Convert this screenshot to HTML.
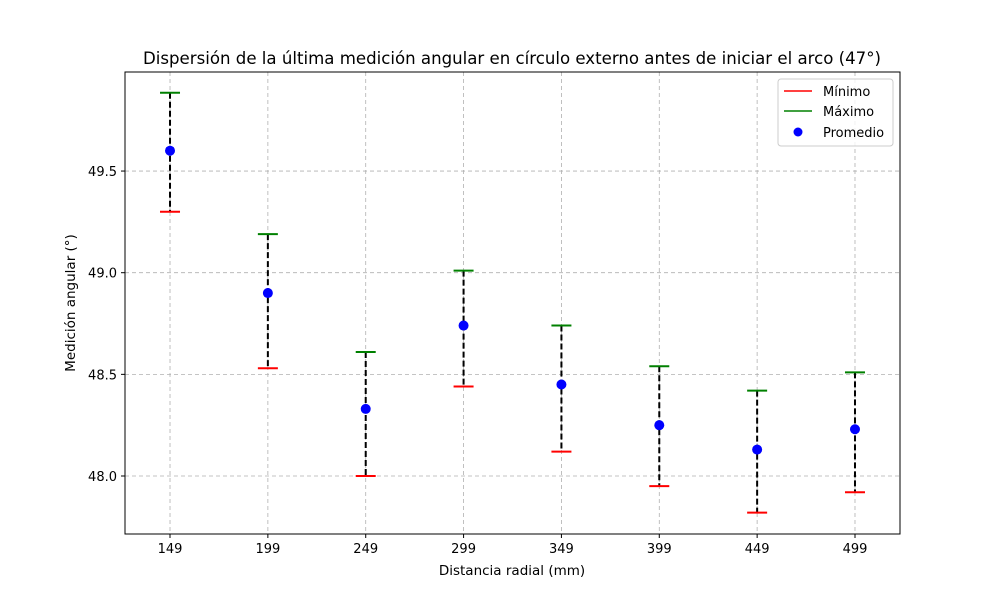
<!DOCTYPE html>
<html><head><meta charset="utf-8"><style>
body{margin:0;background:#fff;font-family:"Liberation Sans","DejaVu Sans",sans-serif}
text{font-family:"DejaVu Sans","Liberation Sans",sans-serif}
</style></head><body>
<svg id="chart" width="1000" height="600" xmlns="http://www.w3.org/2000/svg">
<rect width="1000" height="600" fill="#fff"/>
<text x="512" y="64" font-size="16.6" text-anchor="middle">Dispersión de la última medición angular en círculo externo antes de iniciar el arco (47°)</text>
<g id="grid"></g><g id="marks"></g>
<rect x="125" y="72" width="775" height="462" fill="none" stroke="#000" stroke-width="1"/>
<g id="axes"></g>
<text x="512" y="575" font-size="13.5" text-anchor="middle">Distancia radial (mm)</text>
<text transform="translate(75,303) rotate(-90)" font-size="13.5" text-anchor="middle">Medición angular (°)</text>
<g>
<rect x="778" y="79" width="115" height="67" fill="#fff" fill-opacity="0.8" stroke="#ccc" rx="3"/>
<line x1="784" y1="91" x2="812" y2="91" stroke="red" stroke-width="1.5"/>
<text x="823" y="96" font-size="13">Mínimo</text>
<line x1="784" y1="111" x2="812" y2="111" stroke="green" stroke-width="1.5"/>
<text x="823" y="116" font-size="13">Máximo</text>
<circle cx="798" cy="132" r="4.5" fill="blue"/>
<text x="823" y="137" font-size="13">Promedio</text>
</g>
</svg>
<script>
const categories=["149","199","249","299","349","399","449","499"];
const maxVals=[49.885,49.19,48.61,49.01,48.74,48.54,48.42,48.51];
const meanVals=[49.60,48.90,48.33,48.74,48.45,48.25,48.13,48.23];
const minVals=[49.30,48.53,48.00,48.44,48.12,47.95,47.82,47.92];
const yTicks=[48.0,48.5,49.0,49.5];
const NS="http://www.w3.org/2000/svg";
const L=125,R=900,T=72,B=534;
const x=i=>L+(i+0.46)*(R-L)/(7.92);
const y=v=>476-(v-48)*203.3;
function mk(tag,attrs,parent){const e=document.createElementNS(NS,tag);for(const k in attrs)e.setAttribute(k,attrs[k]);document.getElementById(parent).appendChild(e);return e;}
categories.forEach((c,i)=>{
  const g=mk("line",{x1:x(i),x2:x(i),y1:T,y2:B,stroke:"#b0b0b0","stroke-dasharray":"4,3","stroke-width":0.8},"grid");
  
  
  const t=mk("line",{x1:x(i),x2:x(i),y1:B,y2:B+4,stroke:"#000"},"axes");
  
  
  const l=mk("text",{x:x(i),y:B+19,"font-size":13,"text-anchor":"middle"},"axes");l.textContent=c;
  
  
});
yTicks.forEach(v=>{
  const g=mk("line",{x1:L,x2:R,y1:y(v),y2:y(v),stroke:"#b0b0b0","stroke-dasharray":"4,3","stroke-width":0.8},"grid");
  
  
  const t=mk("line",{x1:L-4,x2:L,y1:y(v),y2:y(v),stroke:"#000"},"axes");
  
  
  const l=mk("text",{x:L-8,y:y(v)+5,"font-size":13,"text-anchor":"end"},"axes");l.textContent=v.toFixed(1);
  
  
});
categories.forEach((c,i)=>{
  const r=mk("line",{x1:x(i),x2:x(i),y1:y(maxVals[i]),y2:y(minVals[i]),stroke:"#000","stroke-width":2,"stroke-dasharray":"6,3"},"marks");
  
  
  const mn=mk("line",{x1:x(i)-10,x2:x(i)+10,y1:y(minVals[i]),y2:y(minVals[i]),stroke:"red","stroke-width":2},"marks");
  
  
  const mx=mk("line",{x1:x(i)-10,x2:x(i)+10,y1:y(maxVals[i]),y2:y(maxVals[i]),stroke:"green","stroke-width":2},"marks");
  
  
  const p=mk("circle",{cx:x(i),cy:y(meanVals[i]),r:5,fill:"blue"},"marks");
  
  
});
</script>
</body></html>
